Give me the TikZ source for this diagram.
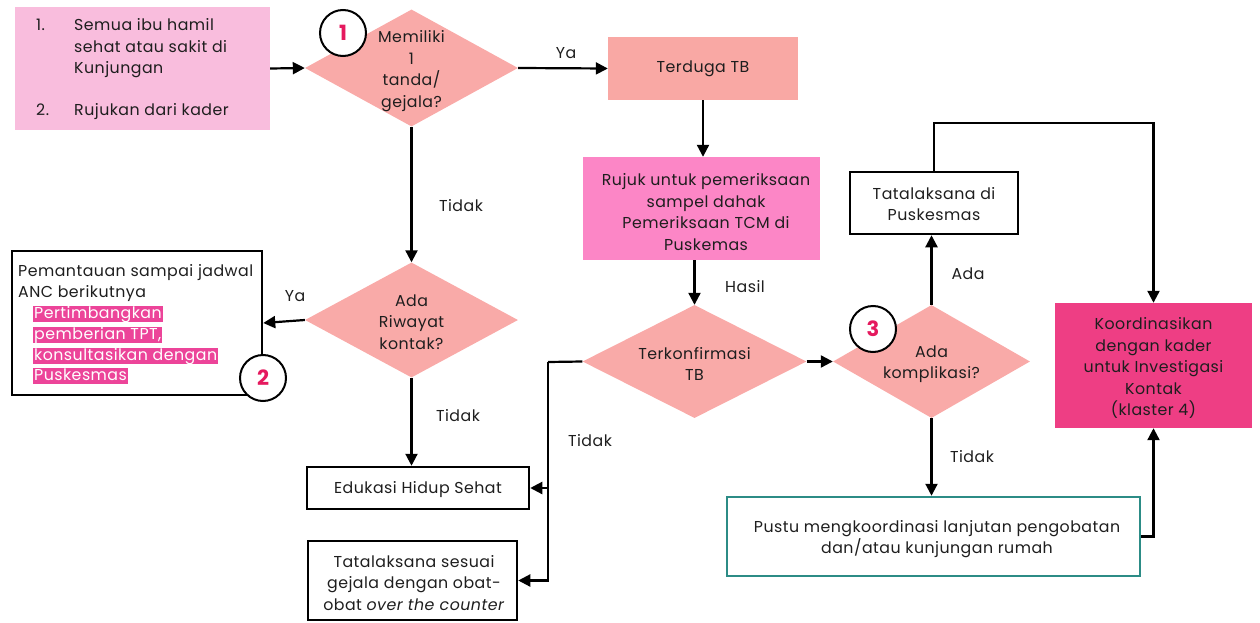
\documentclass[tikz,border=0pt]{standalone}
\usepackage{fontspec}
\setmainfont{Poppins}[LetterSpace=3]
\usetikzlibrary{shapes.geometric,arrows.meta}

\definecolor{diacol}{HTML}{F9AAA8}
\definecolor{tbcol}{HTML}{F9A8A4}
\definecolor{startcol}{HTML}{F9BDDD}
\definecolor{rujukcol}{HTML}{FC86C6}
\definecolor{kadercol}{HTML}{EE3E84}
\definecolor{hlcol}{HTML}{EC4499}
\definecolor{numcol}{HTML}{E5195E}
\definecolor{tealcol}{HTML}{2C8C86}
\definecolor{ink}{HTML}{1E1E1E}

\begin{document}
\begin{tikzpicture}[x=1pt,y=-1pt,
  txt/.style={font=\fontsize{15.8}{21.5}\selectfont, text=ink, align=center, inner sep=0pt},
  ln/.style={txt, text height=11pt, text depth=3pt},
  dia/.style={diamond, fill=diacol, draw=none, inner sep=0pt},
  fillbox/.style={rectangle, draw=none, inner sep=0pt},
  plainbox/.style={rectangle, draw=black, line width=2.5pt, fill=white, inner sep=0pt},
  arr/.style={line width=2.2pt, draw=black, -{Triangle[length=12pt,width=12pt]}},
  link/.style={line width=2.2pt, draw=black},
  num/.style={circle, draw=black, line width=2pt, fill=white, minimum size=46pt, inner sep=0pt,
              font=\bfseries\fontsize{21}{21}\selectfont, text=numcol},
  hl/.style={ln, fill=hlcol, text=white, inner xsep=1pt, inner ysep=1pt, anchor=west}
]
\useasboundingbox (0,0) rectangle (1260,623);

% ---- entry box ----
\node[fillbox, fill=startcol, minimum width=255pt, minimum height=123pt] (start) at (142.5,68.5) {};
\node[ln, anchor=west] (s1n) at (36,27) {1.};
\node[ln, anchor=west] (s1a) at (74,27) {Semua ibu hamil};
\node[ln, anchor=west] (s1b) at (74,49) {sehat atau sakit di};
\node[ln, anchor=west] (s1c) at (74,70) {Kunjungan};
\node[ln, anchor=west] (s2n) at (36,112) {2.};
\node[ln, anchor=west] (s2a) at (74,112) {Rujukan dari kader};

% ---- decision: symptoms ----
\node[dia, minimum width=213pt, minimum height=117pt] (d1) at (411.5,68) {};
\node[txt] (d1t) at (411.5,71) {Memiliki\\1\\tanda/\\gejala?};
\node[num] (c1) at (343,33) {1};

% ---- suspected TB ----
\node[fillbox, fill=tbcol, minimum width=190pt, minimum height=63pt] (tb) at (703,68.5) {};
\node[ln] (tbt) at (703,69) {Terduga TB};

% ---- referral for sputum test ----
\node[fillbox, fill=rujukcol, minimum width=237pt, minimum height=103pt] (rj) at (701.5,208.5) {};
\node[txt] (rjt) at (706,212) {Rujuk untuk pemeriksaan\\sampel dahak\\Pemeriksaan TCM di\\Puskemas};

% ---- decision: confirmed TB ----
\node[dia, minimum width=224pt, minimum height=113pt] (d2) at (694.5,361.5) {};
\node[txt] (d2t) at (694.5,364) {Terkonfirmasi\\TB};

% ---- decision: complications ----
\node[dia, minimum width=197pt, minimum height=113pt] (d3) at (931.5,361.5) {};
\node[txt] (d3t) at (931.5,364) {Ada\\komplikasi?};
\node[num] (c3) at (873,329) {3};

% ---- treatment at Puskesmas ----
\node[plainbox, minimum width=168pt, minimum height=62pt] (tp) at (934,203) {};
\node[txt] (tpt) at (934,204) {Tatalaksana di\\Puskesmas};

% ---- coordinate with cadre ----
\node[fillbox, fill=kadercol, minimum width=197pt, minimum height=125pt] (kd) at (1153.5,365.5) {};
\node[txt] (kdt) at (1153.5,368) {Koordinasikan\\dengan kader\\untuk Investigasi\\Kontak\\(klaster 4)};

% ---- Pustu follow-up ----
\node[rectangle, draw=tealcol, line width=2.5pt, fill=white, minimum width=413pt, minimum height=79pt] (pu) at (933.5,536.5) {};
\node[txt] (put) at (937,539) {Pustu mengkoordinasi lanjutan pengobatan\\dan/atau kunjungan rumah};

% ---- decision: contact history ----
\node[dia, minimum width=213pt, minimum height=115pt] (d4) at (411.5,320) {};
\node[txt] (d4t) at (411.5,322) {Ada\\Riwayat\\kontak?};

% ---- monitoring box ----
\node[plainbox, minimum width=250pt, minimum height=144pt] (bx2) at (137,323) {};
\node[ln, anchor=west] (b2a) at (18,272) {Pemantauan sampai jadwal};
\node[ln, anchor=west] (b2b) at (18,293) {ANC berikutnya};
\node[hl] (h1) at (33,314) {Pertimbangkan};
\node[hl] (h2) at (33,335) {pemberian TPT,};
\node[hl] (h3) at (33,356) {konsultasikan dengan};
\node[hl] (h4) at (33,376) {Puskesmas};
\node[num] (c2) at (263,378) {2};

% ---- healthy living education ----
\node[plainbox, minimum width=222pt, minimum height=42pt] (ed) at (418,488) {};
\node[ln] (edt) at (418,489) {Edukasi Hidup Sehat};

% ---- symptomatic treatment ----
\node[plainbox, minimum width=209pt, minimum height=79pt] (ts) at (412.5,580.5) {};
\node[txt] (tst) at (414,583) {Tatalaksana sesuai\\gejala dengan obat-\\obat \textit{over the counter}};

% ---- connectors ----
\draw[arr] (start.east) -- (d1.west);
\draw[arr] (d1.east) -- (tb.west);
\draw[arr] (tb.south) -- (tb.south |- rj.north);
\draw[arr] (d2.north |- rj.south) -- (d2.north);
\draw[arr] (d2.east) -- (d3.west);
\draw[arr] (d3.north) -- (d3.north |- tp.south);
\draw[arr] (tp.north) -- ++(0,-48) -| (kd.north);
\draw[arr] (d3.south) -- (d3.south |- pu.north);
\draw[arr] (pu.east) -| (kd.south);
\draw[arr] (d1.south) -- (d4.north);
\draw[arr] (d4.west) -- (bx2.east);
\draw[arr] (d4.south) -- (d4.south |- ed.north);
\coordinate (jn) at (548,362);
\draw[link] (d2.west) -- (jn);
\draw[arr] (jn) |- (ts.east);
\draw[arr] (jn |- ed.east) -- (ed.east);

% ---- connector labels ----
\node[ln] (lya1) at (566,55) {Ya};
\node[ln] (ltd1) at (461,207) {Tidak};
\node[ln] (lhs) at (745,288) {Hasil};
\node[ln] (lada) at (968,275) {Ada};
\node[ln] (ltd3) at (972,458) {Tidak};
\node[ln] (lya2) at (295,297) {Ya};
\node[ln] (ltd2) at (458,417) {Tidak};
\node[ln] (ltd4) at (590,442) {Tidak};
\end{tikzpicture}
\end{document}
